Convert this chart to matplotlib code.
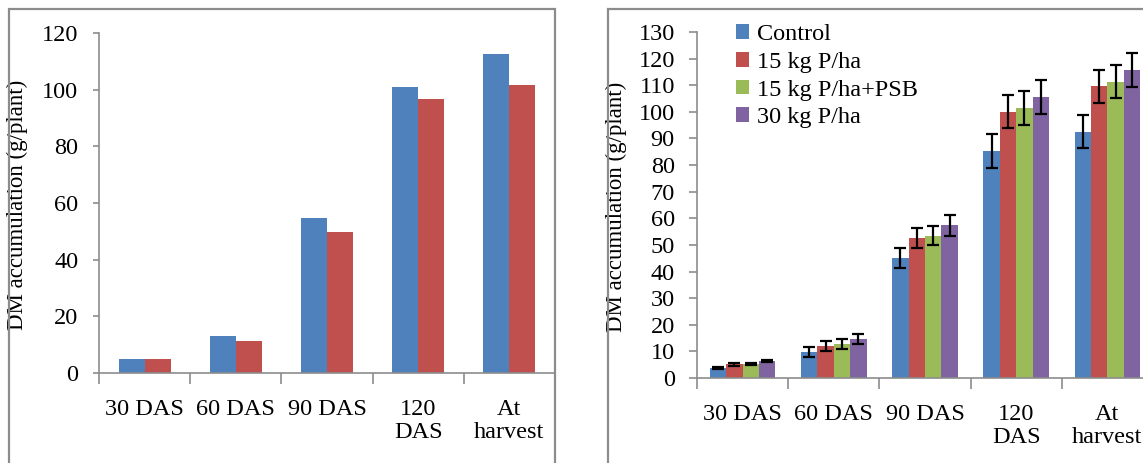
import numpy as np
import matplotlib.pyplot as plt
from matplotlib.patches import Rectangle

plt.rcParams['font.family'] = ['Liberation Serif', 'DejaVu Serif']

# data
stages = ['30 DAS', '60 DAS', '90 DAS', '120\nDAS', 'At\nharvest']

left_blue = [5.1, 12.9, 54.7, 100.9, 112.5]
left_red = [5.1, 11.4, 49.6, 96.7, 101.8]

treatments = ['Control', '15 kg P/ha', '15 kg P/ha+PSB', '30 kg P/ha']
dm_control = [3.8, 9.8, 45.1, 85.3, 92.5]
dm_15p = [5.1, 12.0, 52.6, 100.1, 109.6]
dm_15p_psb = [5.2, 12.7, 53.5, 101.4, 111.4]
dm_30p = [6.4, 14.7, 57.3, 105.5, 115.8]
err_control = [0.5, 2.0, 3.8, 6.3, 6.2]
err_15p = [0.5, 1.75, 3.7, 6.2, 6.3]
err_15p_psb = [0.5, 1.9, 3.7, 6.3, 6.3]
err_30p = [0.5, 1.75, 3.8, 6.4, 6.4]

colors = ['#4F81BD', '#C0504D', '#9BBB59', '#8064A2']
axis_grey = '#8C8C8C'
FS = 17.5
FS_LABEL = 16.5

W, H = 1143, 463
fig = plt.figure(figsize=(W / 100, H / 100), dpi=100)


def px_axes(x0, y_top, x1, y_bot):
    return fig.add_axes([x0 / W, 1 - y_bot / H, (x1 - x0) / W, (y_bot - y_top) / H])


def style(ax, ymax, step, ytick_len, ypad):
    n = len(stages)
    ax.set_xlim(-0.5, n - 0.5)
    ax.set_ylim(0, ymax)
    ax.set_yticks(np.arange(0, ymax + 1, step))
    ax.set_xticks(np.arange(n + 1) - 0.5)
    ax.set_xticklabels([])
    ax.set_xticks(np.arange(n), minor=True)
    ax.set_xticklabels(stages, minor=True, fontsize=FS, linespacing=1.1)
    ax.tick_params(axis='x', which='major', length=8, width=1.2, color=axis_grey, direction='out')
    ax.tick_params(axis='x', which='minor', length=0, pad=19)
    ax.tick_params(axis='y', length=ytick_len, width=1.2, color=axis_grey, labelsize=FS, pad=ypad)
    for s in ['top', 'right']:
        ax.spines[s].set_visible(False)
    for s in ['left', 'bottom']:
        ax.spines[s].set_color(axis_grey)
        ax.spines[s].set_linewidth(1.2)


x = np.arange(len(stages))

# left panel
ax1 = px_axes(99, 33, 555, 373)
bw = 0.286
ax1.bar(x - bw / 2, left_blue, bw, color=colors[0])
ax1.bar(x + bw / 2, left_red, bw, color=colors[1])
style(ax1, 120, 20, 4, 11)
ax1.set_ylabel('DM accumulation (g/plant)', fontsize=FS_LABEL)
ax1.yaxis.set_label_coords(28 / W, 1 - 205 / H, transform=fig.transFigure)

# right panel
ax2 = px_axes(697, 32, 697 + 5 * 91.2, 378)
bw2 = 0.18
series = [dm_control, dm_15p, dm_15p_psb, dm_30p]
errs = [err_control, err_15p, err_15p_psb, err_30p]
handles = []
for i, (vals, e) in enumerate(zip(series, errs)):
    b = ax2.bar(x + (i - 1.5) * bw2, vals, bw2, color=colors[i], label=treatments[i],
                yerr=e, error_kw=dict(ecolor='black', elinewidth=1.6, capsize=4.3, capthick=1.6))
    handles.append(b)
style(ax2, 130, 10, 6, 10)
ax2.set_ylabel('DM accumulation (g/plant)', fontsize=FS_LABEL)
ax2.yaxis.set_label_coords(627 / W, 1 - 207 / H, transform=fig.transFigure)
ax2.legend(handles=handles, loc='upper left', bbox_to_anchor=(736 / W, 1 - 24 / H),
           bbox_transform=fig.transFigure, frameon=False, fontsize=FS,
           handlelength=0.55, handleheight=0.55, handletextpad=0.3, labelspacing=0.28,
           borderpad=0, borderaxespad=0)

# panel borders
fig.patches.append(Rectangle((9 / W, -0.1), (555 - 9) / W, 1.1 - 9 / H, transform=fig.transFigure,
                             fill=False, edgecolor=axis_grey, linewidth=1.6))
fig.patches.append(Rectangle((608 / W, -0.1), 1.0, 1.1 - 9 / H, transform=fig.transFigure,
                             fill=False, edgecolor=axis_grey, linewidth=1.6))

fig.savefig('out.png', dpi=100)
